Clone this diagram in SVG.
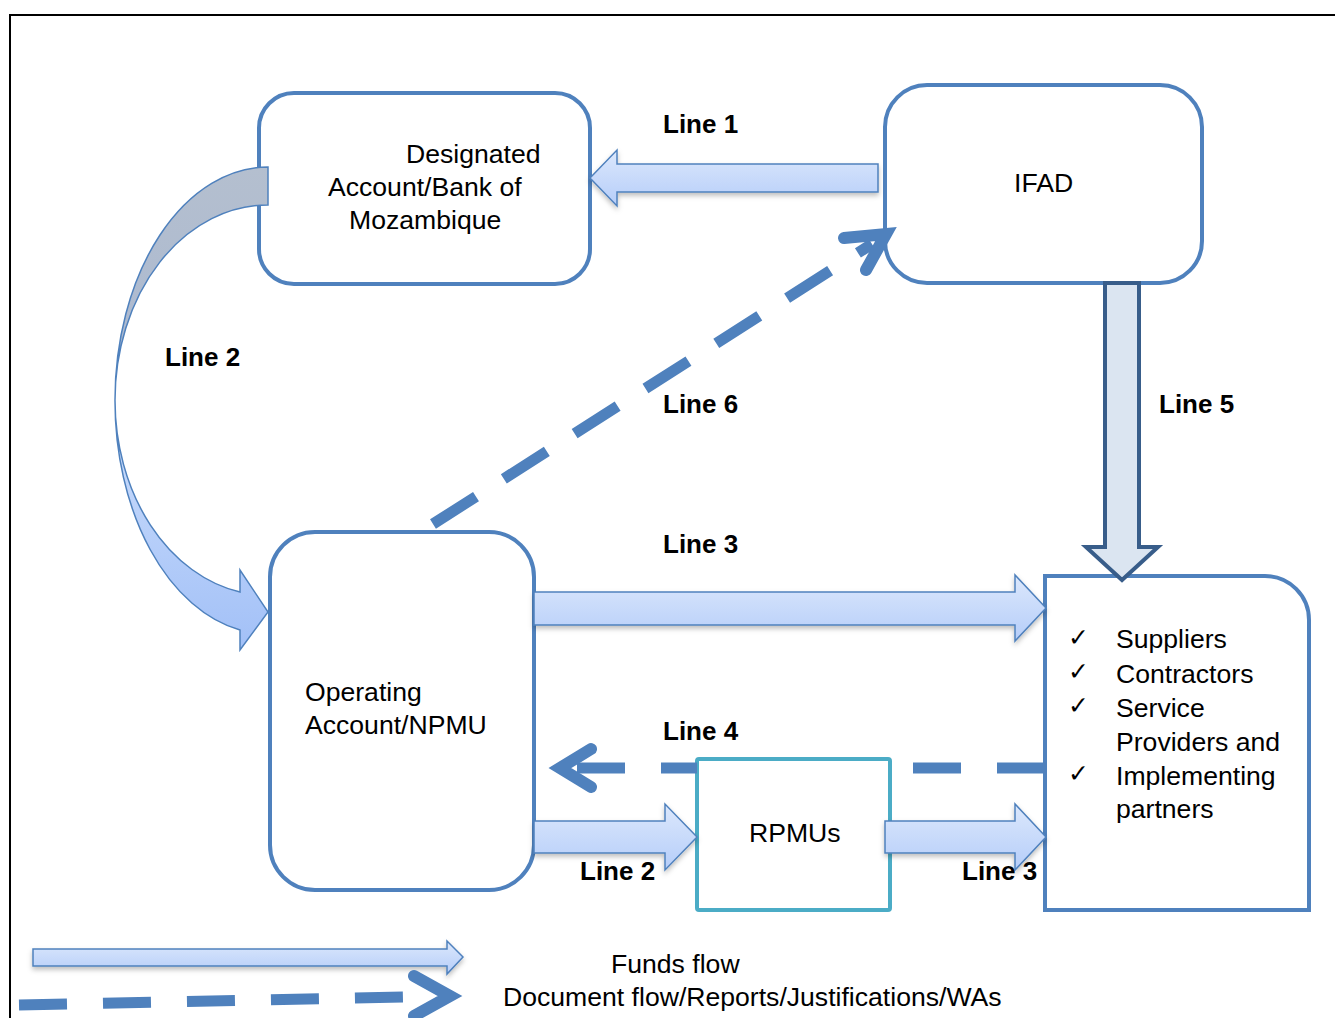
<svg xmlns="http://www.w3.org/2000/svg" width="1335" height="1018" viewBox="0 0 1335 1018">
<style>
.node{fill:#fff;stroke:#4f81bd;stroke-width:4}
.rp{fill:#fff;stroke:#4bacc6;stroke-width:4}
.t{font-family:"Liberation Sans",Arial,sans-serif;font-size:26.6px;fill:#000}
.lb{font-family:"Liberation Sans",Arial,sans-serif;font-size:26px;font-weight:bold;fill:#000}
.ck{font-family:"DejaVu Sans",sans-serif;font-size:25px;fill:#000}
.blk{fill:url(#gBlue);stroke:#4f81bd;stroke-width:1.5;filter:url(#sh)}
.dash{stroke:#4f81bd;stroke-width:11;fill:none}
.chev{stroke:#4f81bd;stroke-width:12;fill:none;stroke-linecap:round;stroke-linejoin:miter}
</style>
<defs>
<linearGradient id="gBlue" x1="0" y1="0" x2="0" y2="1">
<stop offset="0" stop-color="#dce8fc"/>
<stop offset="1" stop-color="#b5cdf9"/>
</linearGradient>
<linearGradient id="gCurve" x1="0" y1="400" x2="0" y2="650" gradientUnits="userSpaceOnUse">
<stop offset="0" stop-color="#cfe0fc"/>
<stop offset="1" stop-color="#a2c0f7"/>
</linearGradient>
<linearGradient id="gBack" x1="0" y1="167" x2="0" y2="400" gradientUnits="userSpaceOnUse">
<stop offset="0" stop-color="#b4bfcf"/>
<stop offset="1" stop-color="#aab8d0"/>
</linearGradient>
<filter id="sh" x="-5%" y="-30%" width="110%" height="170%">
<feDropShadow dx="0" dy="3" stdDeviation="2.5" flood-color="#000" flood-opacity="0.25"/>
</filter>
</defs>
<rect width="1335" height="1018" fill="#fff"/>
<path d="M10,1018 L10,15 L1335,15" fill="none" stroke="#000" stroke-width="2"/>

<g id="designated">
<rect class="node" x="259" y="93" width="331" height="191" rx="35"/>
<text class="t" x="406" y="163">Designated</text>
<text class="t" x="328" y="196">Account/Bank of</text>
<text class="t" x="349" y="229">Mozambique</text>
</g>
<g id="ifad">
<rect class="node" x="885" y="85" width="317" height="198" rx="42"/>
<text class="t" x="1014" y="192">IFAD</text>
</g>
<g id="operating">
<rect class="node" x="270" y="532" width="264" height="358" rx="45"/>
<text class="t" x="305" y="701">Operating</text>
<text class="t" x="305" y="734">Account/NPMU</text>
</g>
<g id="suppliers">
<path class="node" d="M1045,576 L1265,576 A44,44 0 0 1 1309,620 L1309,910 L1045,910 Z"/>
<text class="ck" x="1068" y="646">✓</text>
<text class="ck" x="1068" y="680">✓</text>
<text class="ck" x="1068" y="714">✓</text>
<text class="ck" x="1068" y="782">✓</text>
<text class="t" x="1116" y="648">Suppliers</text>
<text class="t" x="1116" y="683">Contractors</text>
<text class="t" x="1116" y="717">Service</text>
<text class="t" x="1116" y="751">Providers and</text>
<text class="t" x="1116" y="785">Implementing</text>
<text class="t" x="1116" y="818">partners</text>
</g>
<g id="rpmus">
<rect class="rp" x="697" y="759" width="193" height="151" rx="2"/>
<text class="t" x="749" y="842">RPMUs</text>
</g>

<g id="connectors">
<!-- Line 1 -->
<path class="blk" d="M878,164 L617,164 L617,150 L590,178 L617,206 L617,192 L878,192 Z"/>
<!-- Line 2 curved -->
<path d="M268,167 A153,233 0 0 0 115,400 A153,195 0 0 1 268,205 Z" fill="url(#gBack)" stroke="#4f81bd" stroke-width="1.5"/>
<path d="M115,400 A153,233 0 0 0 240,630 L240,650 L268,612 L240,570 L240,592 A153,195 0 0 1 115,400 Z" fill="url(#gCurve)" stroke="#4f81bd" stroke-width="1.5"/>
<!-- Line 3 -->
<path class="blk" d="M534,592 L1015,592 L1015,575 L1046,608 L1015,641 L1015,625 L534,625 Z"/>
<!-- Line 2 bottom -->
<path class="blk" d="M534,821 L665,821 L665,804 L697,837 L665,870 L665,853 L534,853 Z"/>
<!-- Line 3 bottom -->
<path class="blk" d="M885,821 L1015,821 L1015,804 L1046,837 L1015,870 L1015,853 L885,853 Z"/>
<!-- Line 5 -->
<path d="M1105,283 L1105,547 L1086,547 L1122,580 L1158,547 L1139,547 L1139,283 Z" fill="#dbe5f1" stroke="#385d8a" stroke-width="4"/>
<!-- Line 6 -->
<line class="dash" x1="433" y1="524" x2="872" y2="244" stroke-dasharray="51 33"/>
<path class="chev" d="M844,238 L886,234 L866,270"/>
<!-- Line 4 -->
<path class="dash" d="M1045,768 L997,768 M961,768 L913,768 M697,768 L661,768 M625,768 L577,768"/>
<path class="chev" d="M591,749 L560,768 L591,787"/>
</g>

<g id="labels">
<text class="lb" x="663" y="133">Line 1</text>
<text class="lb" x="165" y="366">Line 2</text>
<text class="lb" x="663" y="413">Line 6</text>
<text class="lb" x="1159" y="413">Line 5</text>
<text class="lb" x="663" y="553">Line 3</text>
<text class="lb" x="663" y="740">Line 4</text>
<text class="lb" x="580" y="880">Line 2</text>
<text class="lb" x="962" y="880">Line 3</text>
</g>

<g id="legend">
<path class="blk" d="M33,949 L447,949 L447,941 L463,957 L447,974 L447,966 L33,966 Z"/>
<line class="dash" x1="19" y1="1005" x2="403" y2="997" stroke-dasharray="48 36"/>
<path class="chev" d="M414,976 L450,996 L414,1016"/>
<text class="t" x="611" y="973">Funds flow</text>
<text class="t" x="503" y="1006">Document flow/Reports/Justifications/WAs</text>
</g>
</svg>
